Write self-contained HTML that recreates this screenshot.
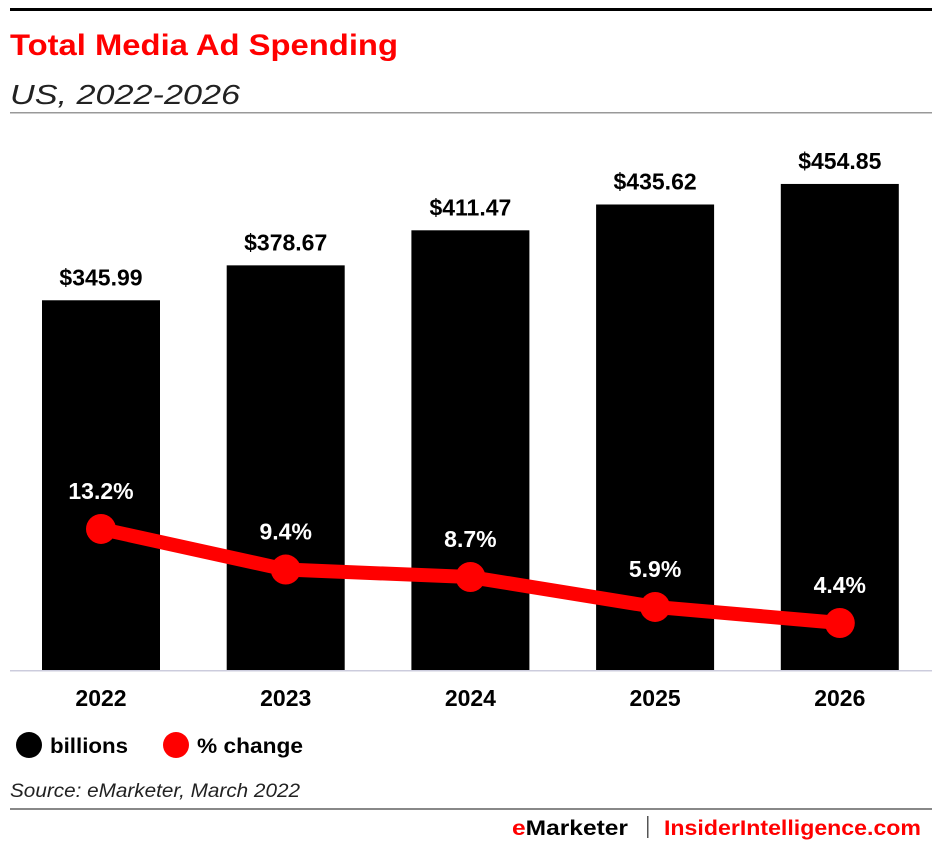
<!DOCTYPE html>
<html><head><meta charset="utf-8"><style>
body{margin:0;background:#fff;width:942px;height:849px;overflow:hidden;font-family:"Liberation Sans",sans-serif;}
svg text{font-family:"Liberation Sans",sans-serif;}
</style></head><body>
<svg id="c" width="942" height="849">
<rect x="10" y="8" width="922" height="3" fill="#000"/>
<text x="10" y="55" font-size="30" font-weight="bold" fill="#ff0000" textLength="388" lengthAdjust="spacingAndGlyphs">Total Media Ad Spending</text>
<text x="10" y="104" font-size="28" font-style="italic" fill="#222" textLength="230" lengthAdjust="spacingAndGlyphs">US, 2022-2026</text>
<rect x="10" y="112" width="922" height="1.5" fill="#999"/>
<rect x="10" y="670" width="922" height="1.5" fill="#ccd"/>
<g id="bars"></g><g id="line"></g>
<circle cx="29" cy="745" r="13" fill="#000"/>
<text x="50" y="753" font-size="21" font-weight="bold" textLength="78" lengthAdjust="spacingAndGlyphs">billions</text>
<circle cx="176" cy="745" r="13" fill="#ff0000"/>
<text x="197" y="753" font-size="21" font-weight="bold" textLength="106" lengthAdjust="spacingAndGlyphs">% change</text>
<text x="10" y="797" font-size="19" font-style="italic" fill="#222" textLength="290" lengthAdjust="spacingAndGlyphs">Source: eMarketer, March 2022</text>
<rect x="10" y="808" width="922" height="2" fill="#888"/>
<text x="512" y="835" font-size="21" font-weight="bold" textLength="116" lengthAdjust="spacingAndGlyphs"><tspan fill="#ff0000">e</tspan>Marketer</text>
<rect x="647" y="816" width="1.5" height="22" fill="#555"/>
<text x="664" y="835" font-size="21" font-weight="bold" fill="#ff0000" textLength="257" lengthAdjust="spacingAndGlyphs">InsiderIntelligence.com</text>
</svg>
<script>
const years=["2022","2023","2024","2025","2026"];
const spend=[345.99,378.67,411.47,435.62,454.85];
const pct=[13.2,9.4,8.7,5.9,4.4];
const NS="http://www.w3.org/2000/svg";
const base=670, yS=v=>base-v*1.0686, yP=v=>base-v*10.686, xC=i=>101+i*184.7, bw=118;
function mk(t,a,p){const e=document.createElementNS(NS,t);for(const k in a)e.setAttribute(k,a[k]);p.appendChild(e);return e;}
const gb=document.getElementById('bars'),gl=document.getElementById('line');
years.forEach((y,i)=>{
 const r=mk('rect',{x:xC(i)-bw/2,y:yS(spend[i]),width:bw,height:base-yS(spend[i]),fill:'#000'},gb);
 
 
 const t=mk('text',{x:xC(i),y:yS(spend[i])-15,'font-size':23,'font-weight':'bold','text-anchor':'middle'},gb);
 t.textContent='$'+spend[i].toFixed(2);
 
 
 const a=mk('text',{x:xC(i),y:706,'font-size':23,'font-weight':'bold','text-anchor':'middle'},gb);
 a.textContent=y;
 
 
});
const pl=mk('polyline',{points:pct.map((v,i)=>xC(i)+','+yP(v)).join(' '),fill:'none',stroke:'#ff0000','stroke-width':14,'stroke-linejoin':'round'},gl);


pct.forEach((v,i)=>{
 const c=mk('circle',{cx:xC(i),cy:yP(v),r:15,fill:'#ff0000'},gl);
 
 
 const t=mk('text',{x:xC(i),y:yP(v)-30,'font-size':23,'font-weight':'bold','text-anchor':'middle',fill:'#fff'},gl);
 t.textContent=v.toFixed(1)+'%';
 
 
});
</script>
</body></html>
